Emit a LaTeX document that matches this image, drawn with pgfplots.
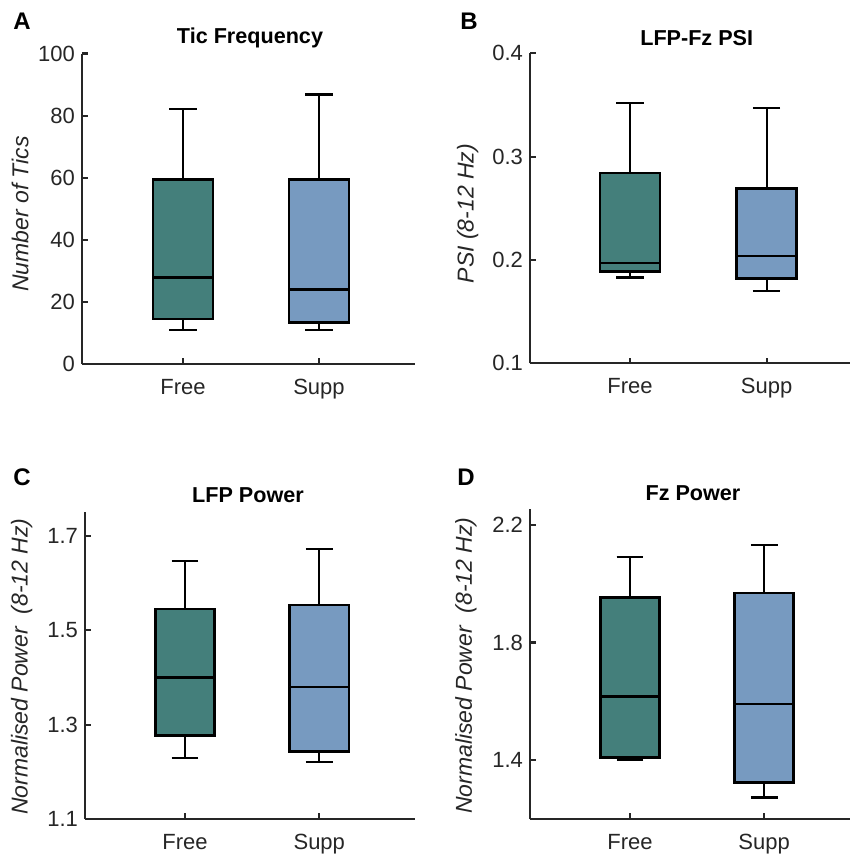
\documentclass[border=0pt]{standalone}
\usepackage{fontspec}
\setmainfont{Liberation Sans}
\usepackage{pgfplots}
\pgfplotsset{compat=1.18}
\usepgfplotslibrary{statistics}

\definecolor{freecol}{HTML}{447F7B}
\definecolor{suppcol}{HTML}{779AC0}
\definecolor{axcol}{HTML}{262626}

\pgfplotsset{
  panel/.style={
    scale only axis,
    axis lines*=left,
    axis line style={axcol, line width=1.1pt},
    tick style={axcol, line width=1.1pt},
    tick align=inside,
    major tick length=2.8pt,
    xtick={1,2},
    xticklabels={Free, Supp},
    tick label style={font=\fontsize{11}{13}\selectfont, text=axcol},
    xticklabel style={yshift=-4pt},
    /pgf/number format/assume math mode=true,
    boxplot/draw direction=y,
    boxplot/every box/.style={line width=1.3pt},
    boxplot/every median/.style={line width=1.3pt},
    boxplot/every whisker/.style={line width=1.1pt},
    boxplot/box extend=0.44,
    boxplot/whisker extend=0.2,
  },
  ylab/.style 2 args={every axis y label/.style={at={(axis description cs:#1,#2)}, rotate=90,
      anchor=center, font=\fontsize{11.5}{13}\selectfont\itshape, text=axcol}},
  free/.style={draw=black, fill=freecol, line width=1.3pt},
  supp/.style={draw=black, fill=suppcol, line width=1.3pt},
}

\begin{document}
\begin{tikzpicture}
  \useasboundingbox (0,0) rectangle (425.5pt,-428.5pt);

  % A: tic frequency
  \begin{axis}[panel, at={(41pt,-182pt)}, anchor=south west,
      width=166.5pt, height=155.25pt,
      xmin=0.257, xmax=2.706, ymin=0, ymax=100,
      ytick={0,20,40,60,80,100},
      ylabel={Number of Tics}, ylab={-0.186}{0.483},
    ]
    \addplot[boxplot prepared={draw position=1, lower whisker=11.0, lower quartile=14.5,
        median=27.8, upper quartile=59.5, upper whisker=82.0}, free] coordinates {};
    \addplot[boxplot prepared={draw position=2, lower whisker=11.0, lower quartile=13.4,
        median=23.9, upper quartile=59.4, upper whisker=86.8}, supp] coordinates {};
  \end{axis}

  % B: PSI
  \begin{axis}[panel, at={(265pt,-181.65pt)}, anchor=south west,
      width=160pt, height=155pt,
      xmin=0.268, xmax=2.61, ymin=0.1, ymax=0.4,
      ytick={0.1,0.2,0.3,0.4},
      yticklabel style={/pgf/number format/.cd, fixed, fixed zerofill, precision=1},
      ylabel={PSI (8-12 Hz)}, ylab={-0.195}{0.483},
    ]
    \addplot[boxplot prepared={draw position=1, lower whisker=0.183, lower quartile=0.189,
        median=0.197, upper quartile=0.284, upper whisker=0.352}, free] coordinates {};
    \addplot[boxplot prepared={draw position=2, lower whisker=0.170, lower quartile=0.182,
        median=0.204, upper quartile=0.269, upper whisker=0.347}, supp] coordinates {};
  \end{axis}

  % C: LFP power
  \begin{axis}[panel, at={(42.5pt,-409.5pt)}, anchor=south west,
      width=165pt, height=153.65pt,
      xmin=0.255, xmax=2.713, ymin=1.1, ymax=1.7515,
      ytick={1.1,1.3,1.5,1.7},
      yticklabel style={/pgf/number format/.cd, fixed, fixed zerofill, precision=1},
      ylabel={Normalised Power\ \ (8-12 Hz)}, ylab={-0.192}{0.496},
    ]
    \addplot[boxplot prepared={draw position=1, lower whisker=1.229, lower quartile=1.277,
        median=1.400, upper quartile=1.545, upper whisker=1.647}, free] coordinates {};
    \addplot[boxplot prepared={draw position=2, lower whisker=1.221, lower quartile=1.243,
        median=1.380, upper quartile=1.554, upper whisker=1.673}, supp] coordinates {};
  \end{axis}

  % D: Fz power
  \begin{axis}[panel, at={(265pt,-409.5pt)}, anchor=south west,
      width=160pt, height=154.85pt,
      xmin=0.254, xmax=2.64, ymin=1.2, ymax=2.253,
      ytick={1.4,1.8,2.2},
      yticklabel style={/pgf/number format/.cd, fixed, fixed zerofill, precision=1},
      ylabel={Normalised Power\ \ (8-12 Hz)}, ylab={-0.2}{0.495},
    ]
    \addplot[boxplot prepared={draw position=1, lower whisker=1.400, lower quartile=1.410,
        median=1.617, upper quartile=1.954, upper whisker=2.092}, free] coordinates {};
    \addplot[boxplot prepared={draw position=2, lower whisker=1.273, lower quartile=1.324,
        median=1.591, upper quartile=1.969, upper whisker=2.131}, supp] coordinates {};
  \end{axis}

  % titles
  \begin{scope}[every node/.style={font=\fontsize{10.8}{12}\selectfont\bfseries, anchor=center}]
    \node at (125pt,-19.15pt) {Tic Frequency};
    \node at (348.35pt,-19pt) {LFP-Fz PSI};
    \node at (124pt,-247.5pt) {LFP Power};
    \node at (346.5pt,-246.65pt) {Fz Power};
  \end{scope}
  % panel letters
  \begin{scope}[every node/.style={font=\fontsize{12}{14}\selectfont\bfseries, anchor=west, inner sep=0pt}]
    \node at (6.5pt,-10.85pt) {A};
    \node at (230pt,-10.85pt) {B};
    \node at (6.5pt,-238.5pt) {C};
    \node at (228.5pt,-238.65pt) {D};
  \end{scope}
\end{tikzpicture}
\end{document}
